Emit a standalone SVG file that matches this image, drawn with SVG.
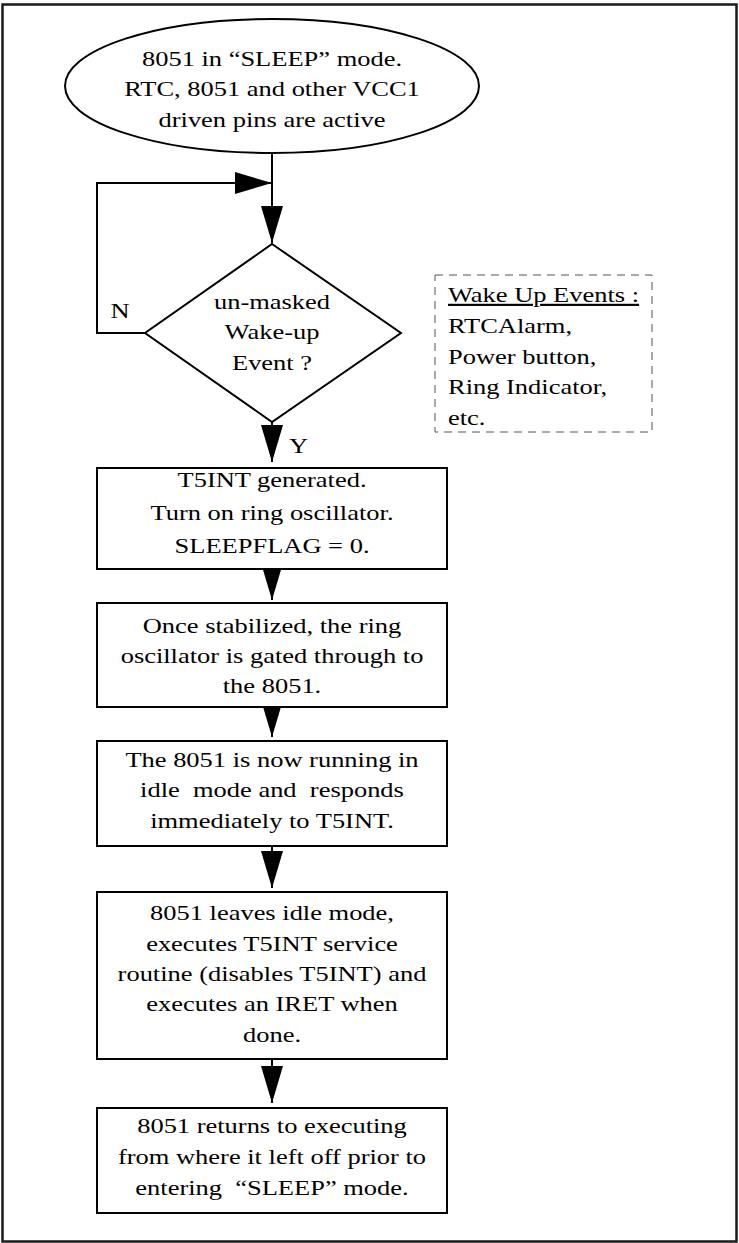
<svg xmlns="http://www.w3.org/2000/svg" width="739" height="1243" viewBox="0 0 739 1243">
<style>
  .frame{fill:none;stroke:#1a1a1a;stroke-width:2.5}
  .shape{fill:#fff;stroke:#000;stroke-width:2}
  .conn{fill:none;stroke:#000;stroke-width:2}
  .dash{fill:none;stroke:#555;stroke-width:1;stroke-dasharray:8 6}
  text{font-family:"Liberation Serif","Times New Roman",serif;font-size:21.7px;fill:#000;white-space:pre}
  .c{text-anchor:middle}
</style>
<defs>
  <marker id="ah" viewBox="0 0 37 22" refX="37" refY="11" markerWidth="37" markerHeight="22" markerUnits="userSpaceOnUse" orient="auto">
    <path d="M0,0 L37,11 L0,22 z" fill="#000"/>
  </marker>
</defs>
<rect class="frame" x="2.5" y="4.5" width="734" height="1237"/>

<g id="connectors">
  <path class="conn" d="M272,153 V243" marker-end="url(#ah)"/>
  <path class="conn" d="M145,333 H97 V183 H272" marker-end="url(#ah)"/>
  <path class="conn" d="M272,422 V462" marker-end="url(#ah)"/>
  <path class="conn" d="M272,562 V600" marker-end="url(#ah)"/>
  <path class="conn" d="M272,699 V737" marker-end="url(#ah)"/>
  <path class="conn" d="M272,846 V888" marker-end="url(#ah)"/>
  <path class="conn" d="M272,1059 V1103" marker-end="url(#ah)"/>
  <text class="c" transform="matrix(1.22 0 0 1 120 0)" x="0" y="318">N</text>
  <text class="c" transform="matrix(1.22 0 0 1 298.5 0)" x="0" y="453">Y</text>
</g>

<g id="start">
  <ellipse class="shape" cx="272" cy="86" rx="207" ry="67"/>
  <text class="c" transform="matrix(1.22 0 0 1 272 0)" x="0" y="66">8051 in “SLEEP” mode.</text>
  <text class="c" transform="matrix(1.22 0 0 1 272 0)" x="0" y="96.5">RTC, 8051 and other VCC1</text>
  <text class="c" transform="matrix(1.22 0 0 1 272 0)" x="0" y="127">driven pins are active</text>
</g>

<g id="decision">
  <polygon class="shape" points="272,244 401,333 272,422 145,333"/>
  <text class="c" transform="matrix(1.22 0 0 1 272 0)" x="0" y="309">un-masked</text>
  <text class="c" transform="matrix(1.22 0 0 1 272 0)" x="0" y="339">Wake-up</text>
  <text class="c" transform="matrix(1.22 0 0 1 272 0)" x="0" y="370">Event ?</text>
</g>

<g id="note">
  <rect class="dash" x="435" y="275" width="217" height="157"/>
  <text transform="matrix(1.22 0 0 1 448 0)" x="0" y="302" text-decoration="underline">Wake Up Events :</text>
  <text transform="matrix(1.22 0 0 1 448 0)" x="0" y="333">RTCAlarm,</text>
  <text transform="matrix(1.22 0 0 1 448 0)" x="0" y="364">Power button,</text>
  <text transform="matrix(1.22 0 0 1 448 0)" x="0" y="394">Ring Indicator,</text>
  <text transform="matrix(1.22 0 0 1 448 0)" x="0" y="425">etc.</text>
</g>

<g id="box1">
  <rect class="shape" x="97" y="468" width="350" height="101"/>
  <text class="c" transform="matrix(1.22 0 0 1 272 0)" x="0" y="487">T5INT generated.</text>
  <text class="c" transform="matrix(1.22 0 0 1 272 0)" x="0" y="520">Turn on ring oscillator.</text>
  <text class="c" transform="matrix(1.22 0 0 1 272 0)" x="0" y="553">SLEEPFLAG = 0.</text>
</g>

<g id="box2">
  <rect class="shape" x="97" y="603" width="350" height="104"/>
  <text class="c" transform="matrix(1.22 0 0 1 272 0)" x="0" y="633">Once stabilized, the ring</text>
  <text class="c" transform="matrix(1.22 0 0 1 272 0)" x="0" y="663">oscillator is gated through to</text>
  <text class="c" transform="matrix(1.22 0 0 1 272 0)" x="0" y="693">the 8051.</text>
</g>

<g id="box3">
  <rect class="shape" x="97" y="741" width="350" height="105"/>
  <text class="c" transform="matrix(1.22 0 0 1 272 0)" x="0" y="767">The 8051 is now running in</text>
  <text class="c" transform="matrix(1.22 0 0 1 272 0)" x="0" y="797">idle  mode and  responds</text>
  <text class="c" transform="matrix(1.22 0 0 1 272 0)" x="0" y="828">immediately to T5INT.</text>
</g>

<g id="box4">
  <rect class="shape" x="97" y="892" width="350" height="167"/>
  <text class="c" transform="matrix(1.22 0 0 1 272 0)" x="0" y="920">8051 leaves idle mode,</text>
  <text class="c" transform="matrix(1.22 0 0 1 272 0)" x="0" y="951">executes T5INT service</text>
  <text class="c" transform="matrix(1.22 0 0 1 272 0)" x="0" y="981">routine (disables T5INT) and</text>
  <text class="c" transform="matrix(1.22 0 0 1 272 0)" x="0" y="1011">executes an IRET when</text>
  <text class="c" transform="matrix(1.22 0 0 1 272 0)" x="0" y="1042">done.</text>
</g>

<g id="box5">
  <rect class="shape" x="97" y="1108" width="350" height="105"/>
  <text class="c" transform="matrix(1.22 0 0 1 272 0)" x="0" y="1133">8051 returns to executing</text>
  <text class="c" transform="matrix(1.22 0 0 1 272 0)" x="0" y="1164">from where it left off prior to</text>
  <text class="c" transform="matrix(1.22 0 0 1 272 0)" x="0" y="1195">entering  “SLEEP” mode.</text>
</g>
</svg>
